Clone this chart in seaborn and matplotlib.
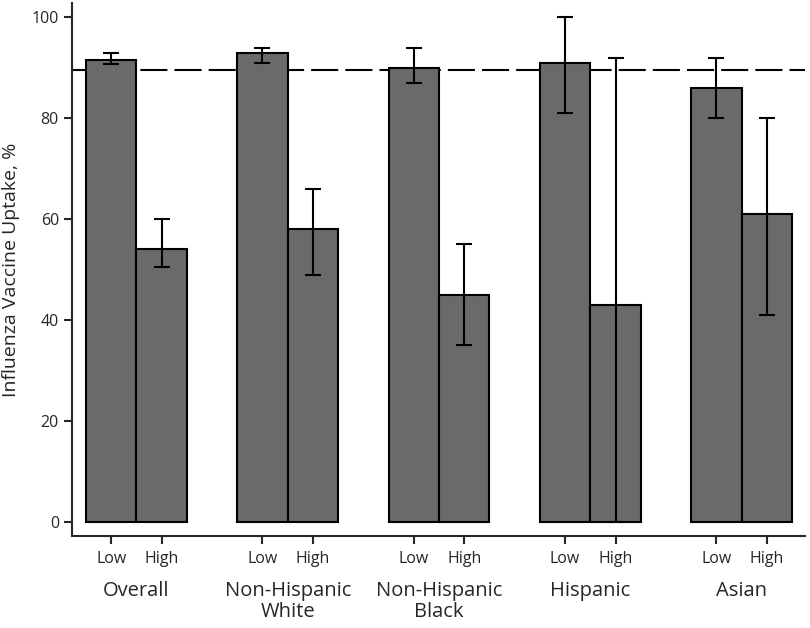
import numpy as np
import pandas as pd
import seaborn as sns
import matplotlib.pyplot as plt
import matplotlib.transforms as mtransforms

# data
groups = ["Overall", "Non-Hispanic\nWhite", "Non-Hispanic\nBlack", "Hispanic", "Asian"]
levels = ["Low", "High"]
low_vals = [91.6, 93.0, 90.0, 91.0, 86.0]
high_vals = [54.0, 58.0, 45.0, 43.0, 61.0]
low_err_lo = [90.7, 91.0, 87.0, 81.0, 80.0]
low_err_hi = [92.9, 94.0, 94.0, 100.0, 92.0]
high_err_lo = [50.5, 49.0, 35.0, 0.0, 41.0]
high_err_hi = [60.0, 66.0, 55.0, 92.0, 80.0]
ref_line = 89.5

df = pd.DataFrame({
    "group": groups * 2,
    "level": ["Low"] * 5 + ["High"] * 5,
    "value": low_vals + high_vals,
    "lo": low_err_lo + high_err_lo,
    "hi": low_err_hi + high_err_hi,
})

sns.set_style("ticks")
plt.rcParams["font.family"] = ["Open Sans", "DejaVu Sans"]

fig = plt.figure(figsize=(8.1, 6.28), dpi=100)
ax = fig.add_axes([0.089, 0.1465, 0.905, 0.849])

ax.axhline(ref_line, color="black", lw=1.5, ls=(0, (13, 3.4)), zorder=0)

sns.barplot(data=df, x="group", y="value", hue="level", hue_order=levels,
            palette=["#6a6a6a", "#6a6a6a"], edgecolor="black", linewidth=1.5,
            width=0.667, gap=0, saturation=1, errorbar=None, legend=False,
            ax=ax, zorder=2)

# error bars on the bars seaborn placed
centers = []
for lvl_i, lvl in enumerate(levels):
    sub = df[df.level == lvl]
    for g_i, (_, row) in enumerate(sub.iterrows()):
        bar = ax.patches[lvl_i * len(groups) + g_i]
        xc = bar.get_x() + bar.get_width() / 2
        centers.append((xc, lvl))
        ax.errorbar(xc, row.value, yerr=[[row.value - row.lo], [row.hi - row.value]],
                    color="black", lw=1.5, capsize=6, capthick=1.5, zorder=3)

centers.sort()
ax.set_xticks([c[0] for c in centers])
ax.set_xticklabels([c[1] for c in centers], fontsize=11.5)
trans = mtransforms.blended_transform_factory(ax.transData, ax.transAxes)
for i, g in enumerate(groups):
    ax.text(i, -0.085, g, transform=trans, ha="center", va="top",
            fontsize=14.5, linespacing=1.05)

ax.set_xlim(-0.425, 4.42)
ax.set_ylim(-2.8, 102.9)
ax.set_yticks([0, 20, 40, 60, 80, 100])
ax.tick_params(axis="y", labelsize=11.5, width=1.5, length=6)
ax.tick_params(axis="x", width=1.5, length=6, pad=5)
ax.set_xlabel("")
ax.set_ylabel("Influenza Vaccine Uptake, %", fontsize=14, labelpad=8)
for s in ["left", "bottom"]:
    ax.spines[s].set_linewidth(1.5)
sns.despine(ax=ax)

fig.savefig("out.png", dpi=100)
